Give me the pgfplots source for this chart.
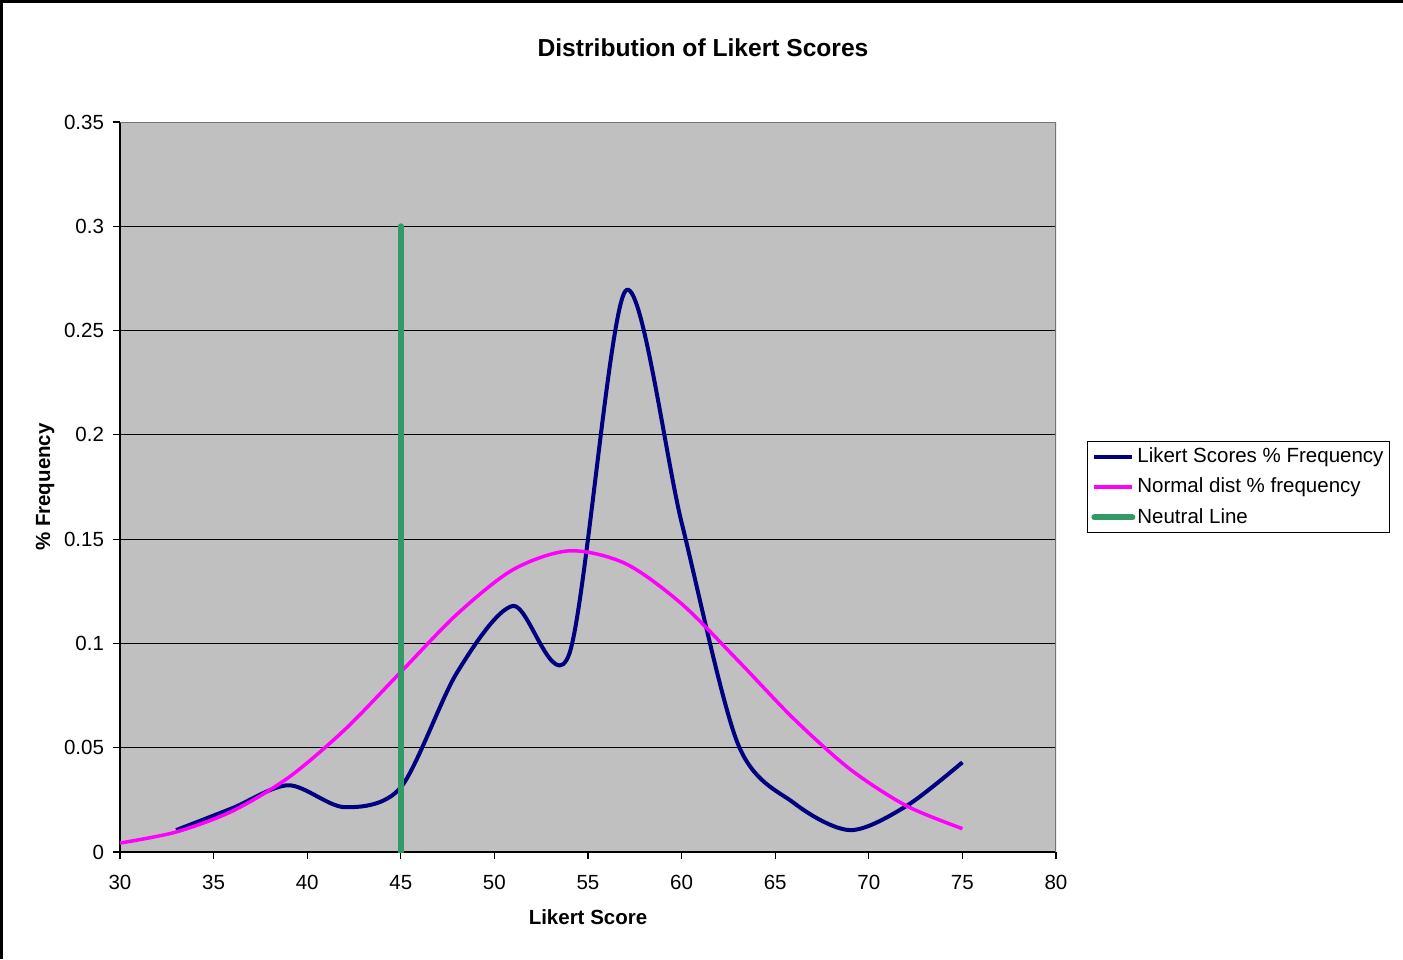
\documentclass[border=0pt]{standalone}
\usepackage{pgfplots}
\pgfplotsset{compat=1.18}
\usepackage{fontspec}
\setmainfont{Liberation Sans}
\definecolor{likert}{HTML}{000080}
\definecolor{normal}{HTML}{FF00FF}
\definecolor{neutral}{HTML}{339966}
\definecolor{plotbg}{HTML}{C0C0C0}
\begin{document}
\begin{tikzpicture}
\useasboundingbox (0,0) rectangle (701.5pt,-479.5pt);
\draw[line width=1.5pt] (0.75pt,-479.5pt) -- (0.75pt,-0.5pt) -- (701.5pt,-0.5pt);
\begin{axis}[
  at={(60pt,-426pt)}, anchor=south west,
  scale only axis, width=468pt, height=365pt,
  xmin=30, xmax=80, ymin=0, ymax=0.35,
  xtick={30,35,...,80},
  ytick={0,0.05,0.1,0.15,0.2,0.25,0.3,0.35},
  yticklabels={0,0.05,0.1,0.15,0.2,0.25,0.3,0.35},
  axis lines*=left,
  axis line style={black, line width=0.6pt},
  tick align=outside, major tick length=3.5pt,
  tick style={black, line width=0.6pt},
  ymajorgrids, grid style={black, line width=0.5pt},
  axis background/.style={fill=plotbg},
  tick label style={font=\fontsize{10.25}{12}\selectfont},
  /pgf/number format/assume math mode=true,
  xticklabel style={yshift=-4.5pt},
  yticklabel style={xshift=-1pt},
  title={\textbf{Distribution of Likert Scores}},
  title style={at={(axis description cs:0.6229,1.085)}, anchor=center, font=\fontsize{12.3}{14}\selectfont},
  xlabel={\textbf{Likert Score}},
  xlabel style={at={(axis description cs:0.5,-0.089)}, anchor=center, font=\fontsize{10.25}{12}\selectfont},
  ylabel={\textbf{\% Frequency}},
  ylabel style={at={(axis description cs:-0.080,0.5)}, anchor=center, rotate=0, font=\fontsize{10.25}{12}\selectfont},
  legend style={at={(1.033,0.5)}, anchor=west, draw=black, line width=0.5pt, fill=white,
    font=\fontsize{10.25}{12}\selectfont, inner xsep=2pt, inner ysep=1.5pt, row sep=3.25pt,
    nodes={inner xsep=1pt, inner ysep=1.5pt}},
  legend cell align=left,
  legend image code/.code={\draw[#1] (0pt,0pt) -- (19pt,0pt);},
]
\addplot[likert, line width=2pt, smooth, tension=0.5] coordinates {
 (33,0.0105) (36,0.021) (39,0.032) (42,0.0215) (45,0.031) (48,0.086)
 (51,0.118) (54,0.095) (57,0.269) (60,0.158) (63,0.052) (66,0.0235)
 (69,0.0105) (72,0.022) (75,0.043)
};
\addlegendentry{Likert Scores \% Frequency}
\addplot[normal, line width=1.75pt, smooth, tension=0.5] coordinates {
 (30,0.0043) (33,0.0096) (36,0.0196) (39,0.0357) (42,0.0586) (45,0.0863)
 (48,0.114) (51,0.1354) (54,0.1444) (57,0.1383) (60,0.119) (63,0.0919)
 (66,0.0638) (69,0.0397) (72,0.0222) (75,0.0112)
};
\addlegendentry{Normal dist \% frequency}
\addplot[neutral, line width=3pt, line cap=round] coordinates {(45,0) (45,0.3)};
\addlegendentry{Neutral Line}
\draw[gray!90!black, line width=0.8pt] (rel axis cs:0,1) -- (rel axis cs:1,1) -- (rel axis cs:1,0);
\end{axis}
\end{tikzpicture}
\end{document}
